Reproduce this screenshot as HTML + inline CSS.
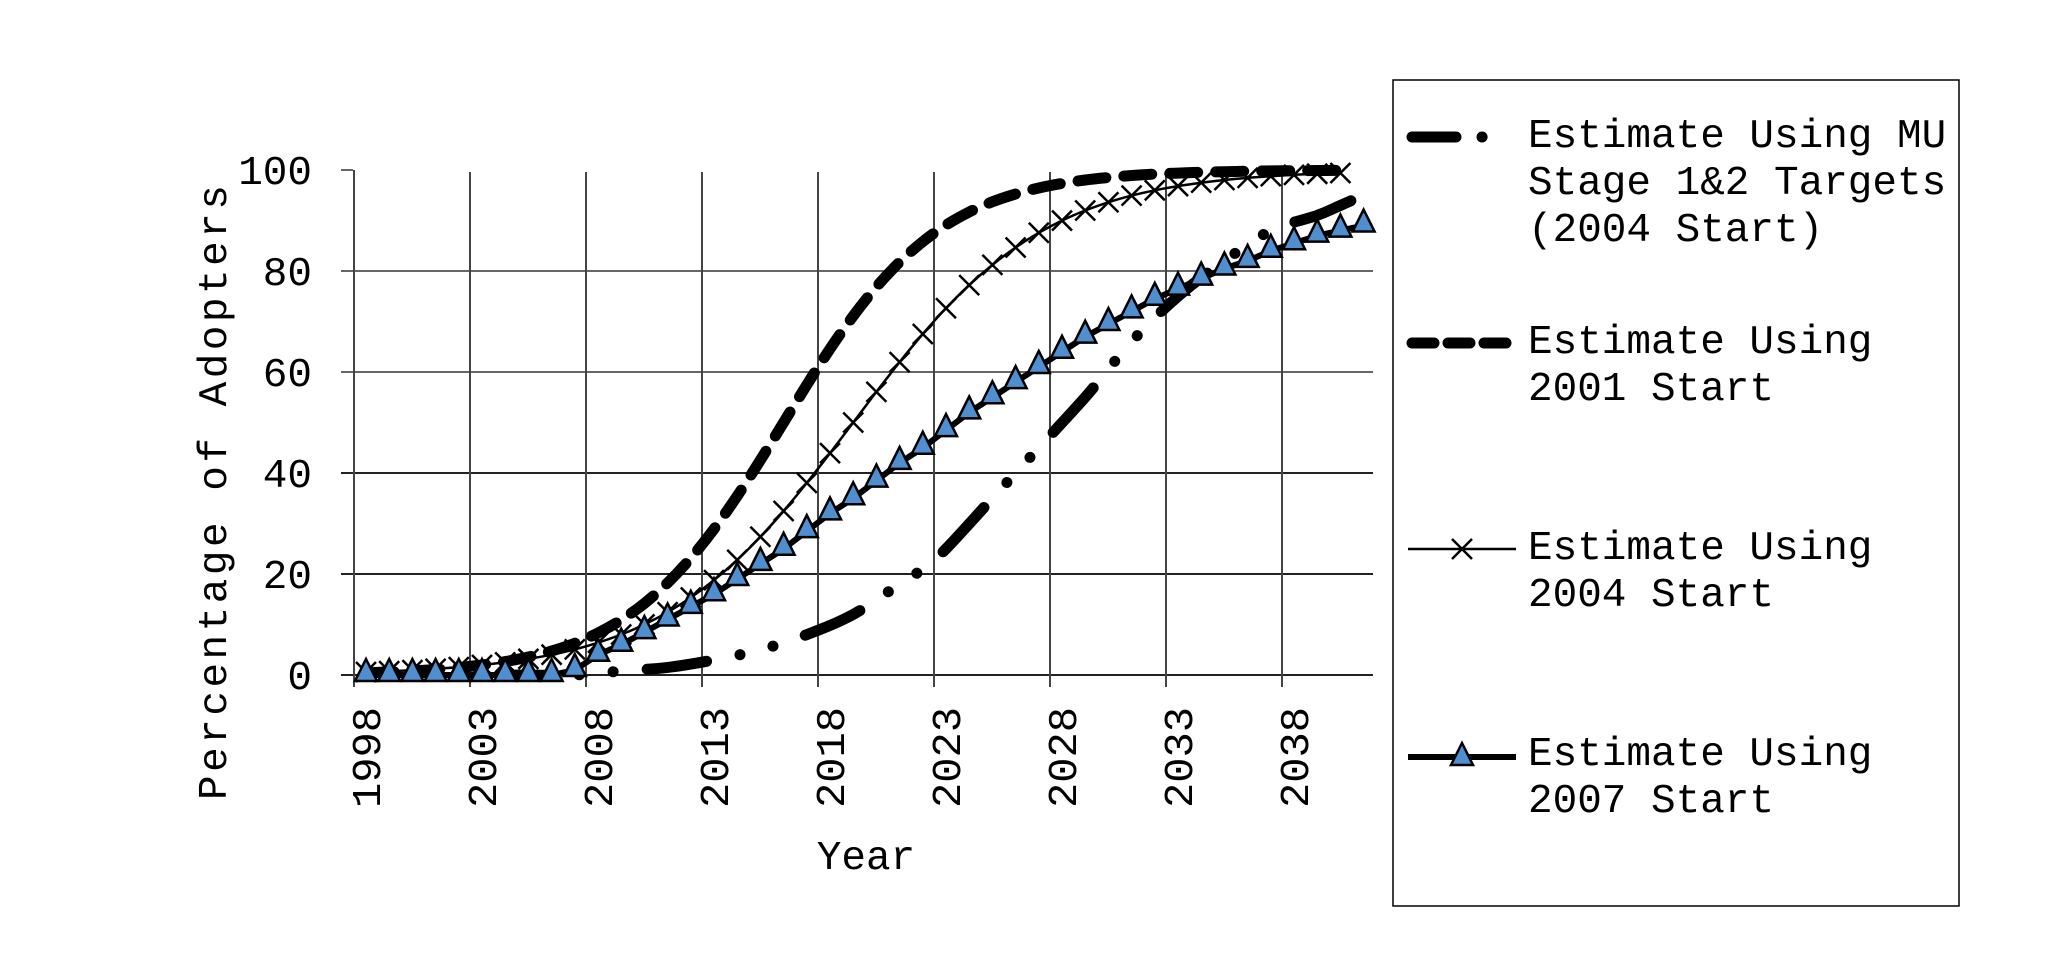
<!DOCTYPE html>
<html><head><meta charset="utf-8"><style>html,body{margin:0;padding:0;background:#fff}svg{display:block}</style></head>
<body>
<svg id="s" width="2071" height="955" viewBox="0 0 2071 955" xmlns="http://www.w3.org/2000/svg" font-family="Liberation Mono, monospace" font-size="41">
<rect width="2071" height="955" fill="#fff"/>
<g id="grid"></g>
<g id="series"></g>
<g id="labels" fill="#000"></g>
<rect x="1393" y="80" width="566" height="826" fill="none" stroke="#000" stroke-width="1.5"/>
<g id="legend"></g>
</svg>
<script>
const NS="http://www.w3.org/2000/svg";
function el(p,t,a,txt){const e=document.createElementNS(NS,t);for(const k in a)e.setAttribute(k,a[k]);if(txt!==undefined)e.textContent=txt;document.getElementById(p).appendChild(e);return e;}
const X=y=>366+(y-1998)*23.2, Y=v=>675-5.05*v;
[20,40,60,80].forEach(v=>el('grid','line',{x1:341,x2:1373,y1:Y(v),y2:Y(v),stroke:v>=60?'#666':'#222','stroke-width':2}));
el('grid','line',{x1:341,x2:353,y1:Y(100),y2:Y(100),stroke:'#666','stroke-width':2});
el('grid','line',{x1:341,x2:1373,y1:Y(0),y2:Y(0),stroke:'#222','stroke-width':2});
el('grid','line',{x1:354,x2:354,y1:Y(100),y2:Y(0)+12,stroke:'#444','stroke-width':2});
for(let k=1;k<=8;k++){const x=354+k*116;el('grid','line',{x1:x,x2:x,y1:Y(100)+2,y2:Y(0)+12,stroke:'#444','stroke-width':2});}
[0,20,40,60,80,100].forEach(v=>el('labels','text',{x:312,y:Y(v)+14,'text-anchor':'end'},String(v)));
for(let yr=1998;yr<=2038;yr+=5){el('labels','text',{transform:`translate(${X(yr)+14},808) rotate(-90)`,textLength:101,lengthAdjust:'spacingAndGlyphs'},String(yr));}
el('labels','text',{x:866,y:869,'text-anchor':'middle'},'Year');
el('labels','text',{transform:'translate(226,800) rotate(-90)',textLength:615,lengthAdjust:'spacing'},'Percentage of Adopters');
const years=[];for(let y=1998;y<=2041;y++)years.push(y);
function path(pts){return pts.map((p,i)=>(i?'L':'M')+X(p[0]).toFixed(1)+' '+Y(p[1]).toFixed(1)).join(' ');}
function smooth(pts){
 let d='M'+X(pts[0][0])+' '+Y(pts[0][1]);
 for(let i=0;i<pts.length-1;i++){const p0=pts[Math.max(0,i-1)],p1=pts[i],p2=pts[i+1],p3=pts[Math.min(pts.length-1,i+2)];
  const c1=[X(p1[0])+(X(p2[0])-X(p0[0]))/6,Y(p1[1])+(Y(p2[1])-Y(p0[1]))/6],c2=[X(p2[0])-(X(p3[0])-X(p1[0]))/6,Y(p2[1])-(Y(p3[1])-Y(p1[1]))/6];
  d+=` C${c1[0].toFixed(1)} ${c1[1].toFixed(1)} ${c2[0].toFixed(1)} ${c2[1].toFixed(1)} ${X(p2[0]).toFixed(1)} ${Y(p2[1]).toFixed(1)}`;}
 return d;}
const mu=[[2004,0],[2007,0],[2009,0.8],[2011,1.5],[2013,3],[2015,5],[2017,8],[2019,12],[2021,18],[2022,21],[2023,25],[2025,35],[2027,45],[2029,55],[2031,66],[2033,75],[2035,82],[2037,88],[2039,91],[2040,93],[2041,95]];
el('series','path',{d:smooth(mu),fill:'none',stroke:'#000','stroke-width':11,'stroke-linecap':'round','stroke-dasharray':'60 34 0.1 34 0.1 34','stroke-dashoffset':20});
const s01=years.filter(y=>y<=2040).map(y=>[y,100/(1+Math.exp(-0.3*(y-2016)))]);
el('series','path',{d:smooth(s01),fill:'none',stroke:'#000','stroke-width':11,'stroke-linecap':'round','stroke-dasharray':'28 18'});
const s04=years.filter(y=>y<=2040).map(y=>[y,100/(1+Math.exp(-0.244*(y-2019)))]);
el('series','path',{d:smooth(s04),fill:'none',stroke:'#000','stroke-width':2.5});
s04.forEach(p=>{const x=X(p[0]),y=Y(p[1]);el('series','path',{d:`M${x-10} ${y-10}L${x+10} ${y+10}M${x-10} ${y+10}L${x+10} ${y-10}`,stroke:'#000','stroke-width':2.5});});
const v07=[0,0,0,0,0,0,0,0,0,1,4,6,8.5,11,13.5,16,19,22,25,28.5,32,35,38.5,42,45,48.5,52,55,58,61,64,67,69.5,72,74.5,76.5,78.5,80.5,82,84,85.5,87,88,89];
const s07=years.map((y,i)=>[y,v07[i]]);
el('series','path',{d:path(s07),fill:'none',stroke:'#000','stroke-width':6,'stroke-linejoin':'round'});
function tri(g,x,y){el(g,'path',{d:`M${x} ${y-16}L${x+11} ${y+6}L${x-11} ${y+6}Z`,fill:'#4f8fd0',stroke:'#000','stroke-width':2.5});}
s07.forEach(p=>tri('series',X(p[0]),Y(p[1])));
const tx=1528;
[[147,'Estimate Using MU'],[194,'Stage 1&2 Targets'],[241,'(2004 Start)'],[353,'Estimate Using'],[400,'2001 Start'],[559,'Estimate Using'],[606,'2004 Start'],[765,'Estimate Using'],[812,'2007 Start']].forEach(a=>el('legend','text',{x:tx,y:a[0],textLength:a[1].length*24.6,lengthAdjust:'spacingAndGlyphs'},a[1]));
el('legend','line',{x1:1412,x2:1505,y1:137,y2:137,stroke:'#000','stroke-width':11,'stroke-linecap':'round','stroke-dasharray':'44 26 0.1 100'});
el('legend','line',{x1:1412,x2:1514,y1:343,y2:343,stroke:'#000','stroke-width':11,'stroke-linecap':'round','stroke-dasharray':'22 14'});
el('legend','line',{x1:1408,x2:1516,y1:549,y2:549,stroke:'#000','stroke-width':2.5});
el('legend','path',{d:'M1452 539L1472 559M1452 559L1472 539',stroke:'#000','stroke-width':2.5});
el('legend','line',{x1:1408,x2:1516,y1:757,y2:757,stroke:'#000','stroke-width':6});
tri('legend',1462,759);
</script>
</body></html>
